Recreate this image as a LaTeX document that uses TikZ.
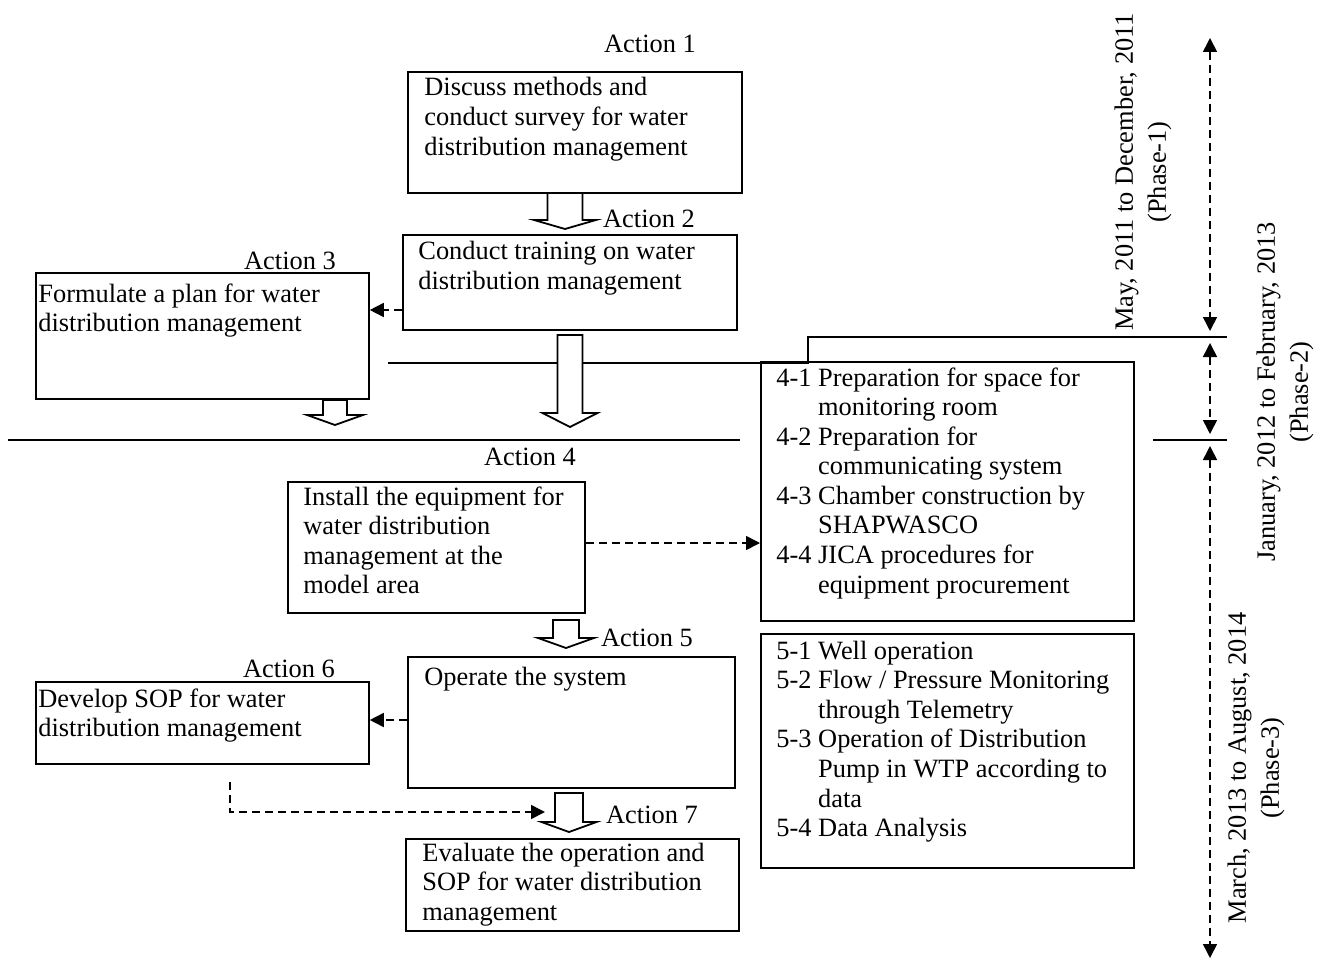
\documentclass[tikz,border=0pt]{standalone}
\usepackage{fontspec}
\setmainfont{Liberation Serif}
\usetikzlibrary{arrows.meta}
\newcommand\ml[1]{\begin{tabular}[t]{@{}l@{}}#1\end{tabular}}
\newcommand\hl[1]{\begin{tabular}[t]{@{}l@{\ }l@{}}#1\end{tabular}}
% block arrow: cx, top, base, tip, shaft half width, head half width
\newcommand\blockarr[6]{\draw[blk] ({#1-#5},#2) -- ({#1-#5},#3) -- ({#1-#6},#3) -- (#1,#4) -- ({#1+#6},#3) -- ({#1+#5},#3) -- ({#1+#5},#2) -- cycle;}
\begin{document}
\begin{tikzpicture}[x=0.5pt,y=-0.5pt,
  font=\fontsize{13.2}{14.8}\selectfont,
  box/.style={draw, line width=0.9pt, inner sep=0, anchor=north west},
  txt/.style={inner sep=0, anchor=base west},
  lbl/.style={inner sep=0, anchor=base},
  dasharr/.style={dash pattern=on 4pt off 2.5pt, line width=0.8pt, -{Triangle[length=7pt,width=7pt]}},
  phasearr/.style={dash pattern=on 4pt off 2.5pt, line width=0.8pt, {Triangle[length=7pt,width=7pt]}-{Triangle[length=7pt,width=7pt]}},
  blk/.style={draw, fill=white, line width=0.9pt},
  sep/.style={line width=0.9pt},
  phase/.style={rotate=90, align=center, inner sep=0, font=\fontsize{13.2}{16.5}\selectfont}]
\useasboundingbox (0,0) rectangle (1322,968);

% separator lines
\draw[sep] (8,440) -- (740,440);
\draw[sep] (388,363) -- (808,363) -- (808,337) -- (1227,337);
\draw[sep] (1153,440) -- (1227,440);

% boxes
\node[box, minimum width=167pt, minimum height=60.5pt] (a1) at (407,71) {};
\node[box, minimum width=167pt, minimum height=47.5pt] (a2) at (402,234) {};
\node[box, minimum width=166.5pt, minimum height=63pt] (a3) at (35,272) {};
\node[box, minimum width=148.5pt, minimum height=65.5pt] (a4) at (287,481) {};
\node[box, minimum width=186.5pt, minimum height=129.5pt] (b4) at (760,361) {};
\node[box, minimum width=163.5pt, minimum height=65.5pt] (a5) at (407,656) {};
\node[box, minimum width=166.5pt, minimum height=41pt] (a6) at (35,681) {};
\node[box, minimum width=186.5pt, minimum height=117pt] (b5) at (760,633) {};
\node[box, minimum width=166.5pt, minimum height=46pt] (a7) at (405,838) {};

% box texts
\node[txt] (a1t) at (424,96) {\ml{Discuss methods and\\conduct survey for water\\distribution management}};
\node[txt] (a2t) at (418,260) {\ml{Conduct training on water\\distribution management}};
\node[txt] (a3t) at (38,302) {\ml{Formulate a plan for water\\distribution management}};
\node[txt] (a4t) at (303,505) {\ml{Install the equipment for\\water distribution\\management at the\\model area}};
\node[txt] (a5t) at (424,685) {Operate the system};
\node[txt] (a6t) at (38,707) {\ml{Develop SOP for water\\distribution management}};
\node[txt] (a7t) at (422,861) {\ml{Evaluate the operation and\\SOP for water distribution\\management}};
\node[txt] (b4t) at (776,386) {\hl{4-1 & Preparation for space for\\ & monitoring room\\4-2 & Preparation for\\ & communicating system\\4-3 & Chamber construction by\\ & SHAPWASCO\\4-4 & JICA procedures for\\ & equipment procurement}};
\node[txt] (b5t) at (776,659) {\hl{5-1 & Well operation\\5-2 & Flow / Pressure Monitoring\\ & through Telemetry\\5-3 & Operation of Distribution\\ & Pump in WTP according to\\ & data\\5-4 & Data Analysis}};

% action labels
\node[lbl] (l1) at (650,53) {Action 1};
\node[lbl] (l2) at (649,228) {Action 2};
\node[lbl] (l3) at (290,270) {Action 3};
\node[lbl] (l4) at (530,465) {Action 4};
\node[lbl] (l5) at (647,646) {Action 5};
\node[lbl] (l6) at (289,677) {Action 6};
\node[lbl] (l7) at (652,823) {Action 7};

% block arrows
\blockarr{565}{193}{220}{229}{17.5}{31}
\blockarr{570}{335}{413}{427}{12.5}{27.5}
\blockarr{335}{400}{415}{425}{12}{28}
\blockarr{566}{620}{638}{648}{13}{28}
\blockarr{569}{793}{822}{832}{14}{27.5}

% dashed connectors
\coordinate (y23) at (0,310);
\draw[dasharr] (a2.west |- y23) -- (a3.east |- y23);
\coordinate (y4) at (0,543);
\draw[dasharr] (a4.east |- y4) -- (b4.west |- y4);
\coordinate (y56) at (0,720);
\draw[dasharr] (a5.west |- y56) -- (a6.east |- y56);
\coordinate (s67) at (230,782);
\coordinate (e67) at (545,812);
\draw[dasharr] (s67) -- (s67 |- e67) -- (e67);

% phase arrows
\coordinate (p1a) at (1210,38);
\coordinate (p1b) at (1210,331);
\coordinate (p2a) at (1210,343);
\coordinate (p2b) at (1210,434);
\coordinate (p3a) at (1210,446);
\coordinate (p3b) at (1210,958);
\draw[phasearr] (p1a) -- (p1b);
\draw[phasearr] (p2a) -- (p2b);
\draw[phasearr] (p3a) -- (p3b);

% phase labels
\node[phase] (ph1) at (1143,172) {May, 2011 to December, 2011\\(Phase-1)};
\node[phase] (ph2) at (1285,392) {January, 2012 to February, 2013\\(Phase-2)};
\node[phase] (ph3) at (1256,768) {March, 2013 to August, 2014\\(Phase-3)};
\end{tikzpicture}
\end{document}
